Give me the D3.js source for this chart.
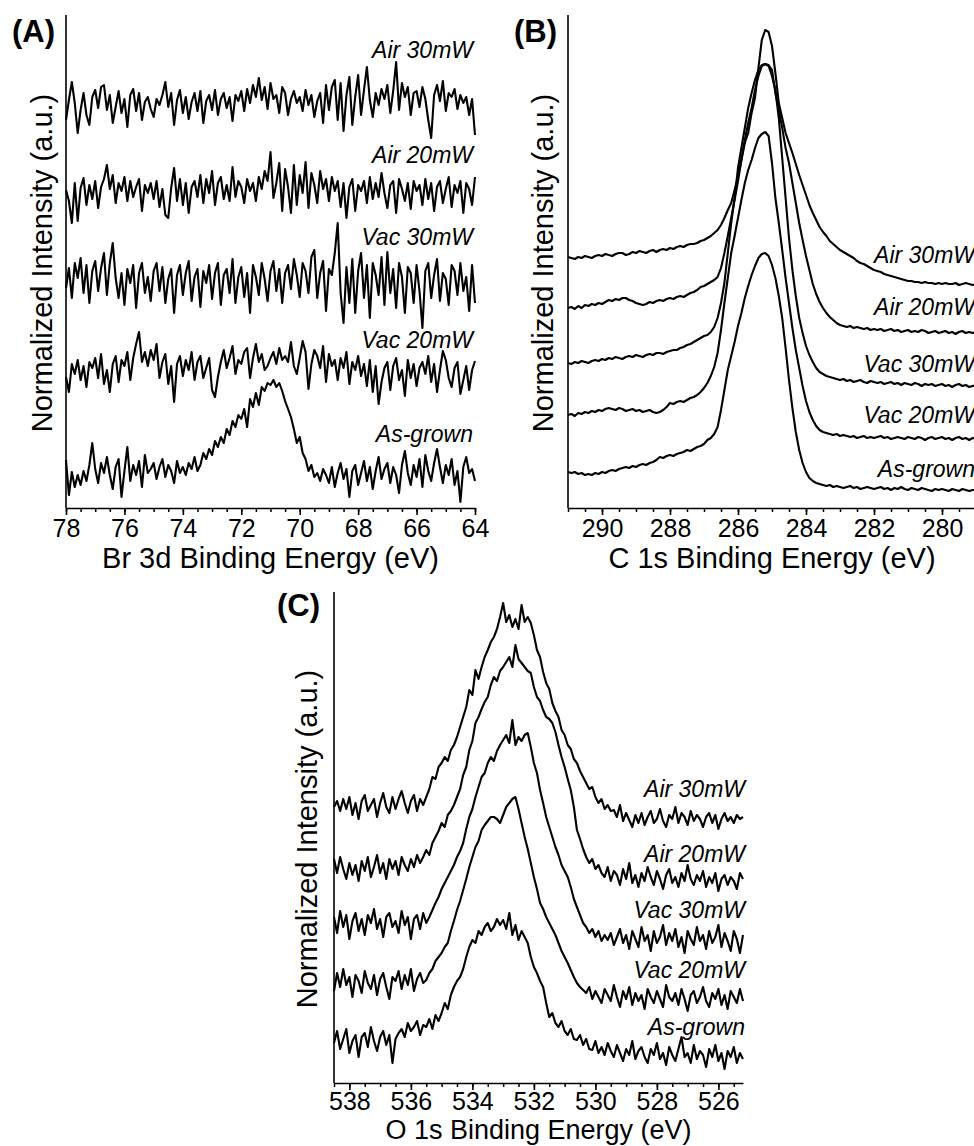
<!DOCTYPE html>
<html>
<head>
<meta charset="utf-8">
<title>XPS spectra</title>
<script src="https://cdn.jsdelivr.net/npm/d3@7"></script>
<style>
  body { margin: 0; background: #fff; }
  svg text { font-family: "Liberation Sans", Arial, sans-serif; fill: #000; }
  .spec { fill: none; stroke: #000; stroke-width: 2.1; stroke-linejoin: round; }
</style>
</head>
<body>
<svg id="fig" width="974" height="1146"></svg>
<script>
// sample names, top to bottom
var names = ["Air 30mW", "Air 20mW", "Vac 30mW", "Vac 20mW", "As-grown"];

// ---- (A) Br 3d, 78 -> 64 eV, 0.1 eV step; values relative to each offset
var brStart = 78, brStep = 0.1;
var brOffsets = [403, 315, 225, 136, 31];
var brAir30 = [-15,5,23,2,-28,-5,12,-10,-20,8, 15,-3,18,20,-5,10,-18,-2,14,-8, 6,-22,10,16,-6,12,-15,3,8,-4,
  -12,6,0,10,23,-2,12,-20,5,15, -8,8,-14,3,12,-6,14,-18,4,10, -5,15,-10,6,12,-3,8,-16,10,4,
  14,-6,16,2,20,8,27,5,18,-4, 22,6,10,-8,18,12,-10,6,14,2, 8,-6,15,0,10,-12,4,12,-18,20,
  -5,18,25,-15,22,-26,10,28,-20,8, 30,-10,15,38,5,-12,12,0,16,6, 20,-8,14,43,-5,22,8,18,-10,12,
  14,-2,18,6,-15,-33,10,20,4,24, -6,12,8,16,-4,10,2,8,-10,6, -30];
var brAir20 = [3,-8,-30,10,-28,5,15,-12,8,-6, 12,-15,6,14,28,4,18,-10,10,2, 16,-8,12,-4,6,14,-18,8,0,10,
  -6,12,-14,4,-22,-25,5,25,-8,14, -12,10,-20,6,12,-4,18,-10,14,0, 22,-12,10,16,-6,8,-8,26,-4,12,
  6,-10,14,2,10,-8,16,4,22,12, 41,-5,10,30,-18,24,6,-20,28,-12, 18,0,31,-15,20,8,-10,22,4,14,
  -8,16,2,12,-14,10,-25,6,14,-18, 8,2,12,-10,16,-6,10,-4,20,0, -15,8,12,-20,14,4,-8,10,-16,12,
  2,8,-12,14,-6,10,-18,6,12,-10, 4,16,-14,8,0,12,-20,10,4,-12, 16];
var brVac30 = [-5,15,-15,20,5,25,-10,18,-20,12, 22,-8,15,30,-12,20,40,5,-15,10, -22,14,0,18,-25,10,20,-10,6,-18,
  12,20,-8,16,-20,4,14,-30,8,18, -12,10,22,-18,6,14,-24,12,0,18, -16,10,20,-22,8,14,-10,24,-20,6,
  16,-14,10,-30,18,6,-12,20,4,-18, 12,22,-8,14,-20,10,18,-6,24,8, -14,20,12,-10,26,33,-15,10,22,-28,
  14,8,30,60,-10,-40,16,-20,24,-30, 12,30,-15,18,-35,20,8,-12,26,-22, 31,-10,14,-25,20,6,-30,16,10,-20,
  18,-8,-45,12,20,-15,8,24,-18,10, 4,-22,18,12,-12,20,-8,6,-28,18, -20];
var brVac20 = [-5,-20,8,-2,12,-8,6,-15,10,4, 14,-6,18,-12,2,-20,8,16,-10,12, 6,20,-8,14,28,40,10,20,6,22,
  12,28,-6,10,18,-12,6,-30,8,16, -4,12,2,20,-8,10,16,-6,4,14, -18,-25,-5,10,22,4,14,26,-2,12,
  8,20,24,-6,14,28,10,18,2,6, 14,20,8,24,12,16,10,30,6,-2, 14,31,20,-17,8,22,16,4,26,-10,
  18,6,12,-8,14,4,20,-12,10,2, 16,-4,8,-14,12,-20,6,-32,-10,4, 10,-18,6,14,-8,2,-24,12,-6,8,
  -14,4,10,-2,16,-10,8,-20,2,21, 12,-6,-15,4,10,-22,-8,6,-18,2, 11];
var brAsGrown = [17,-18,5,-10,2,-8,6,-4,12,34, 8,-6,14,4,20,2,-12,10,18,-20, 6,30,-4,12,2,16,-10,22,4,8,
  14,-2,10,18,0,12,6,-6,16,4, 10,2,14,8,20,6,12,24,18,28, 22,36,30,40,34,48,42,56,50,62,
  58,68,50,78,70,84,72,90,86,94, 92,97,90,94,86,76,68,60,48,34, 40,24,18,6,12,0,4,-4,8,2,
  -6,10,-10,4,14,-2,8,-20,6,12, -8,4,16,-4,10,-12,6,20,-2,8, 14,-6,10,2,-16,12,26,4,-8,12,
  0,18,-10,22,6,-4,14,28,10,-6, 12,2,18,-8,6,-25,10,20,4,8, -4];

// ---- (B) C 1s, 291 -> 279 eV, 0.1 eV step; absolute values
var cStart = 291, cStep = 0.1;
var cAir30 = [251,250,249,251,250,252,251,250,252,253, 252,254,253,252,254,255,255,253,254,256,
  255,257,256,255,257,258,256,258,259,258, 260,259,261,262,261,263,264,264,265,267,
  268,270,272,275,278,283,290,298,305,318, 331,348,365,375,395,410,440,468,478,476,
  462,435,405,390,375,365,355,344,333,323, 313,303,295,288,281,276,272,267,264,261,
  258,256,254,252,250,247,245,244,242,240, 238,237,236,234,233,232,231,230,229,228,
  227,227,226,226,225,226,225,225,224,225, 224,225,224,224,225,223,224,225,224,223,224];
var cAir20 = [200,201,199,202,200,203,202,204,203,205, 204,206,208,207,209,208,210,210,208,207,
  205,204,203,204,206,205,207,208,207,209, 210,209,211,212,211,213,215,216,218,221,
  222,224,226,228,231,240,255,272,290,308, 327,348,368,385,400,418,432,442,444,443,
  438,415,398,380,360,345,325,305,285,268, 252,238,224,214,206,200,195,191,188,185,
  183,182,181,182,180,181,180,179,180,178, 179,178,179,177,178,179,177,178,176,177,
  178,176,177,176,178,177,175,176,177,175, 176,177,175,176,174,176,177,175,176,175,176];
var cVac30 = [145,144,146,145,147,146,145,147,148,147, 149,148,150,149,151,150,149,151,152,151,
  153,152,151,153,154,153,155,155,154,156, 157,158,158,160,161,163,164,166,168,170,
  172,173,176,181,190,205,225,255,285,310, 340,360,380,400,415,428,438,443,444,442,
  432,418,390,350,310,270,238,212,190,175, 162,153,146,140,136,134,132,131,130,129,
  128,129,127,128,126,127,128,126,125,127, 126,125,126,124,125,126,124,125,123,125,
  124,123,125,124,122,124,123,124,122,123, 124,122,123,121,123,124,122,123,121,122,123];
var cVac20 = [93,94,92,95,94,96,95,97,96,98, 97,99,100,99,98,100,99,97,98,99,
  97,98,96,97,98,96,95,96,98,101, 105,104,106,107,106,108,110,111,113,116,
  120,125,132,141,155,178,205,230,255,272, 290,308,325,338,348,360,370,374,376,372,
  345,310,285,258,230,205,180,158,140,122, 107,96,88,82,78,76,75,74,73,74,
  72,73,72,71,72,70,71,72,70,71, 70,71,72,70,71,69,70,71,70,69,
  71,70,69,71,70,68,70,71,69,70, 71,69,70,68,70,71,69,70,68,70,69];
var cAsGrown = [36,35,36,34,35,33,34,33,35,34, 36,35,37,38,37,39,40,41,40,42,
  41,43,44,43,45,46,48,51,50,52, 53,52,54,55,56,58,57,59,61,62,
  64,68,70,74,81,98,118,138,152,166, 182,195,210,222,233,242,250,254,255,252,
  243,230,212,190,160,128,100,76,58,45, 36,30,27,25,24,23,22,23,21,22,
  21,20,21,22,20,21,19,20,21,20, 19,20,21,19,20,18,20,19,21,19,
  18,20,19,18,20,19,18,17,19,18, 19,18,17,19,18,17,19,18,17,18,18];

// ---- (C) O 1s, 538.5 -> 525.2 eV, 0.1 eV step; values relative to each offset
var oStart = 538.5, oStep = 0.1;
var oOffsets = [276, 216, 160, 100, 40];
var oAir30 = [0,6,-4,8,-2,10,-8,4,-12,6, 12,-4,2,8,-10,4,14,0,-6,10, -2,8,16,4,-6,6,12,-4,8,2,
  10,18,30,28,40,44,50,46,57,62, 70,80,90,100,117,112,137,128,140,150, 157,165,170,178,190,204,185,192,180,188,
  178,202,185,190,184,172,157,150,135,124, 118,104,96,90,77,72,62,58,48,44, 36,30,24,18,20,10,4,8,-2,2,
  -4,-3,-10,2,-14,-6,-13,-20,-8,-16, -6,-18,-10,-4,-16,-12,-2,-14,-20,-8, -12,0,-16,-6,-10,-18,-4,-14,-8,-12,
  -20,-10,-6,-16,-8,-22,-12,-6,-14,-10, -16,-8,-12,-10];
var oAir20 = [8,-6,10,-2,-12,4,-8,2,-14,6, -4,10,-10,0,12,-6,4,-12,8,-2, 6,-8,10,2,-4,8,0,12,4,10,
  17,12,24,30,36,44,40,52,56,62, 70,78,92,100,117,126,144,150,158,165, 170,182,190,186,196,200,205,210,200,222,
  208,204,200,196,194,180,170,166,157,150, 148,144,135,122,110,100,88,77,60,37, 28,18,10,4,8,-2,2,-6,-10,0,
  -14,-4,-8,-18,-2,-12,4,-16,-8,-20, -6,-14,0,-10,-18,-4,-12,-22,-8,-2, -16,-10,-20,-6,-14,2,-12,-18,-8,-14,
  -4,-20,-10,-16,-6,-24,-12,-8,-18,-10, -14,-22,-6,-12];
var oVac30 = [6,-10,12,-4,8,-16,2,10,-8,4, -12,8,0,14,-6,4,-14,6,10,-4, 2,-10,12,-2,6,-16,4,8,-6,10,
  0,6,13,20,26,34,40,46,52,58, 66,72,80,94,106,114,126,136,146,150, 160,166,162,172,178,183,188,180,203,178,
  186,182,188,190,176,160,150,133,120,106, 96,86,76,68,58,52,46,36,24,16, 8,0,-4,-10,-6,-14,-8,-18,-12,-17,
  -10,-22,-14,-6,-20,-12,-26,-8,-16,-24, -4,-18,-12,-28,-8,-20,-14,-2,-22,-10, -18,-6,-24,-14,-30,-8,-16,-22,-4,-18,
  -12,-26,-8,-20,-14,-2,-24,-10,-18,-28, -8,-16,-30,-12];
var oVac20 = [-8,10,-4,14,-2,6,-14,8,2,-10, 12,0,-6,8,-12,4,10,-4,-16,6, 2,12,-6,8,-2,14,-8,4,10,0,
  3,10,14,22,26,30,36,40,52,62, 73,82,93,104,116,126,136,142,153,158, 162,166,166,164,160,168,176,180,184,186,
  174,160,146,134,120,106,94,80,74,66, 60,54,48,40,32,26,20,13,6,0, -4,-7,-10,-4,-16,-8,-14,-20,-6,-12,
  -18,-2,-14,-24,-8,-16,-4,-22,-10,-18, -12,-26,-6,-14,-20,-8,-16,-24,-2,-14, -18,-10,-22,-6,-16,-28,-12,-8,-20,-14,
  -4,-18,-24,-10,-16,-6,-22,-12,-26,-8, -14,-20,-6,-18];
var oAsGrown = [0,12,-6,4,14,-10,2,8,-14,6, 10,-4,16,2,-8,6,12,-2,8,-20, 4,10,14,6,20,12,16,22,8,18,
  16,24,14,28,22,30,40,34,48,56, 62,66,74,86,96,103,100,112,108,116, 120,112,116,124,118,123,114,130,108,118,
  103,112,106,100,86,76,70,62,56,40, 26,30,20,16,22,12,8,14,4,3, 8,-2,4,-6,-7,2,-10,-4,-12,0,
  -8,-14,-2,-10,-18,-6,-12,2,-16,-8, -4,-14,-20,-6,-12,0,-16,-10,-22,-4, -12,-18,-6,6,-14,-10,-20,-2,-16,-8,
  -12,-24,-6,-14,-2,-18,-10,-26,-8,-14, -4,-20,-10,-16];

var svg = d3.select("#fig");

function panel(p) {
    var g = svg.append("g");
    var x = d3.scaleLinear().domain(p.xDomain).range([p.left, p.right]);
    var y = d3.scaleLinear().domain(p.yDomain).range([p.bottom, p.top]);

    // spectra
    p.series.forEach(function(s, k) {
        var off = p.offsets ? p.offsets[k] : 0;
        var line = d3.line()
            .x(function(d, i) { return x(p.start - p.step * i); })
            .y(function(d) { return y(d + off); });
        g.append("path").attr("class", "spec").attr("d", line(s));
    });

    // minor ticks
    g.append("g")
        .attr("transform", "translate(0," + p.bottom + ")")
        .call(d3.axisBottom(x).tickValues(p.minor).tickSize(4).tickSizeOuter(0).tickFormat(""))
        .call(function(a) { a.select(".domain").remove(); })
        .selectAll("line").attr("stroke-width", 1.5);

    // major ticks + labels
    var ax = g.append("g")
        .attr("transform", "translate(0," + p.bottom + ")")
        .call(d3.axisBottom(x).tickValues(p.major).tickSize(7).tickSizeOuter(0)
            .tickPadding(p.pad).tickFormat(d3.format("d")));
    ax.attr("font-size", 25).attr("font-family", null);
    ax.select(".domain").attr("stroke-width", 1.6);
    ax.selectAll("line").attr("stroke-width", 1.6);

    // left axis line only
    g.append("line")
        .attr("x1", p.left).attr("x2", p.left)
        .attr("y1", p.top).attr("y2", p.bottom)
        .attr("stroke", "#000").attr("stroke-width", 1.6);

    // titles
    g.append("text")
        .attr("x", (p.left + p.right) / 2).attr("y", p.titleY)
        .attr("text-anchor", "middle").attr("font-size", p.titleSize)
        .text(p.title);
    g.append("text")
        .attr("transform", "translate(" + p.yLabX + "," + p.yLabY + ") rotate(-90)")
        .attr("text-anchor", "middle").attr("font-size", 29)
        .text("Normalized Intensity (a.u.)");
    g.append("text")
        .attr("x", p.tagX).attr("y", p.tagY)
        .attr("font-size", 31).attr("font-weight", "bold")
        .text(p.tag);

    // sample labels
    names.forEach(function(n, k) {
        g.append("text")
            .attr("x", p.labX).attr("y", p.labY[k])
            .attr("text-anchor", "end").attr("font-size", 23).attr("font-style", "italic")
            .text(n);
    });
}

panel({
    tag: "(A)", tagX: 12, tagY: 42,
    title: "Br 3d Binding Energy (eV)", titleY: 568, titleSize: 29,
    xDomain: [78, 64], left: 66, right: 475,
    yDomain: [0, 493], top: 15, bottom: 508,
    start: brStart, step: brStep, offsets: brOffsets,
    series: [brAir30, brAir20, brVac30, brVac20, brAsGrown],
    major: d3.range(78, 63, -2), minor: d3.range(78, 63.9, -0.5), pad: 4,
    yLabX: 52, yLabY: 263,
    labX: 473, labY: [58, 163, 245, 348, 442]
});

panel({
    tag: "(B)", tagX: 514, tagY: 42,
    title: "C 1s Binding Energy (eV)", titleY: 568, titleSize: 29,
    xDomain: [291, 279], left: 568, right: 976,
    yDomain: [0, 493], top: 15, bottom: 508,
    start: cStart, step: cStep, offsets: null,
    series: [cAir30, cAir20, cVac30, cVac20, cAsGrown],
    major: d3.range(290, 279, -2), minor: d3.range(291, 278.9, -0.5), pad: 4,
    yLabX: 553, yLabY: 263,
    labX: 975, labY: [263, 315, 372, 423, 477]
});

panel({
    tag: "(C)", tagX: 277, tagY: 616,
    title: "O 1s Binding Energy (eV)", titleY: 1139, titleSize: 27,
    xDomain: [538.5, 525.2], left: 334, right: 743,
    yDomain: [0, 491], top: 592, bottom: 1083,
    start: oStart, step: oStep, offsets: oOffsets,
    series: [oAir30, oAir20, oVac30, oVac20, oAsGrown],
    major: d3.range(538, 525, -2), minor: d3.range(538.5, 525.4, -0.5), pad: 2,
    yLabX: 317, yLabY: 839,
    labX: 745, labY: [797, 862, 918, 978, 1035]
});
</script>
</body>
</html>
